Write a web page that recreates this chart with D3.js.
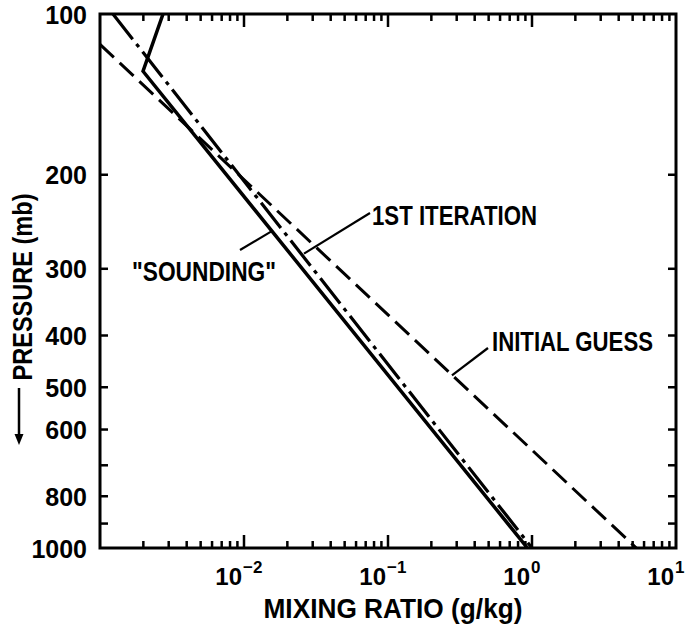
<!DOCTYPE html>
<html>
<head>
<meta charset="utf-8">
<script src="https://cdn.jsdelivr.net/npm/d3@7"></script>
<style>
  body { margin: 0; background: #fff; }
  svg { display: block; }
  text { fill: #000; font-family: "Liberation Sans", Arial, sans-serif; font-weight: bold; }
</style>
</head>
<body>
<script>
// data (mixing ratio g/kg vs pressure mb)
const soundingX = [2.74e-3, 1.99e-3, 0.93];
const soundingP = [100, 128, 1000];
const iterX = [1.23e-3, 1.0];
const iterP = [100, 1000];
const guessX = [1e-3, 5.3];
const guessP = [114, 1000];

const pLabels = [100, 200, 300, 400, 500, 600, 800, 1000];
const pTicks = [200, 300, 400, 500, 600, 700, 800, 900];
const decades = [1e-2, 1e-1, 1, 10];
const decadeExp = ["\u22122", "\u22121", "0", "1"];

const w = 693, h = 629;
const pLeft = 100, pRight = 676, pTop = 14, pBottom = 548;

const svg = d3.select("body").append("svg").attr("width", w).attr("height", h);

const x = d3.scaleLog().domain([1e-3, 10]).range([pLeft, pRight]);
const y = d3.scaleLog().domain([100, 1000]).range([pTop, pBottom]);

// minor ticks 2..9 in every decade, majors at the inner decades
const minors = [];
[1e-3, 1e-2, 1e-1, 1].forEach(d => { for (let k = 2; k <= 9; k++) minors.push(d * k); });
const xTicks = minors.map(v => ({ v, len: 7 })).concat(decades.slice(0, 3).map(v => ({ v, len: 13 })));

// frame
svg.append("rect").attr("x", pLeft).attr("y", pTop).attr("width", pRight - pLeft).attr("height", pBottom - pTop)
  .attr("fill", "none").attr("stroke", "#000").attr("stroke-width", 3);

// inward ticks on all four sides
const tg = svg.append("g").attr("stroke", "#000").attr("stroke-width", 2.5);
tg.selectAll(".xb").data(xTicks).join("line").attr("class", "xb")
  .attr("x1", d => x(d.v)).attr("x2", d => x(d.v)).attr("y1", pBottom).attr("y2", d => pBottom - d.len);
tg.selectAll(".xt").data(xTicks).join("line").attr("class", "xt")
  .attr("x1", d => x(d.v)).attr("x2", d => x(d.v)).attr("y1", pTop).attr("y2", d => pTop + d.len);
tg.selectAll(".yl").data(pTicks).join("line").attr("class", "yl")
  .attr("y1", d => y(d)).attr("y2", d => y(d)).attr("x1", pLeft).attr("x2", pLeft + 8);
tg.selectAll(".yr").data(pTicks).join("line").attr("class", "yr")
  .attr("y1", d => y(d)).attr("y2", d => y(d)).attr("x1", pRight).attr("x2", pRight - 8);

// y tick labels
const yl = svg.append("g").attr("transform", `translate(${pLeft},0)`)
  .call(d3.axisLeft(y).tickValues(pLabels).tickSize(0).tickPadding(13).tickFormat(d3.format("d")));
yl.select(".domain").remove();
yl.selectAll("text").style("font-size", "25px").style("font-family", '"Liberation Sans", Arial, sans-serif')
  .style("font-weight", "bold").attr("dy", "0.36em");

// x tick labels 10^n
decades.forEach((d, i) => {
  svg.append("text").attr("x", x(d) - 2).attr("y", 585).attr("text-anchor", "end")
    .style("font-size", "24px").text("10");
  svg.append("text").attr("x", x(d) - 1).attr("y", 573).attr("text-anchor", "start")
    .style("font-size", "17px").text(decadeExp[i]);
});

// data lines
const line = d3.line().x(d => x(d[0])).y(d => y(d[1]));
svg.append("clipPath").attr("id", "clip").append("rect")
  .attr("x", pLeft).attr("y", pTop).attr("width", pRight - pLeft).attr("height", pBottom - pTop);

svg.append("path").datum(d3.zip(guessX, guessP)).attr("d", line)
  .attr("fill", "none").attr("stroke", "#000").attr("stroke-width", 3)
  .attr("stroke-dasharray", "19,8").attr("clip-path", "url(#clip)");
svg.append("path").datum(d3.zip(iterX, iterP)).attr("d", line)
  .attr("fill", "none").attr("stroke", "#000").attr("stroke-width", 3.2)
  .attr("stroke-dasharray", "32,6,4,6").attr("clip-path", "url(#clip)");
svg.append("path").datum(d3.zip(soundingX, soundingP)).attr("d", line)
  .attr("fill", "none").attr("stroke", "#000").attr("stroke-width", 3.5)
  .attr("stroke-linejoin", "miter").attr("clip-path", "url(#clip)");

// annotations: leader from label to a point on its curve
const notes = [
  { text: "1ST ITERATION", tx: 372, ty: 225, len: 165, from: [370, 213], to: [0.0261, 281] },
  { text: "\"SOUNDING\"", tx: 132, ty: 281, len: 144, from: [240, 250], to: [0.0156, 255] },
  { text: "INITIAL GUESS", tx: 492, ty: 351, len: 161, from: [488, 348], to: [0.278, 475] }
];
notes.forEach(n => {
  svg.append("line").attr("x1", n.from[0]).attr("y1", n.from[1])
    .attr("x2", x(n.to[0])).attr("y2", y(n.to[1]))
    .attr("stroke", "#000").attr("stroke-width", 2.2);
  svg.append("text").attr("x", n.tx).attr("y", n.ty)
    .attr("textLength", n.len).attr("lengthAdjust", "spacingAndGlyphs")
    .style("font-size", "27px").text(n.text);
});

// axis titles
svg.append("text").attr("x", 393).attr("y", 618).attr("text-anchor", "middle")
  .attr("textLength", 259).attr("lengthAdjust", "spacingAndGlyphs")
  .style("font-size", "27px").text("MIXING RATIO (g/kg)");

svg.append("text").attr("transform", "translate(32,287) rotate(-90)").attr("text-anchor", "middle")
  .attr("textLength", 187).attr("lengthAdjust", "spacingAndGlyphs")
  .style("font-size", "27px").text("PRESSURE (mb)");

// arrow pointing to higher pressure
svg.append("line").attr("x1", 19).attr("y1", 388).attr("x2", 19).attr("y2", 436)
  .attr("stroke", "#000").attr("stroke-width", 2.5);
svg.append("path").attr("d", "M14.5,434 L23.5,434 L19,445 Z").attr("fill", "#000");
</script>
</body>
</html>
